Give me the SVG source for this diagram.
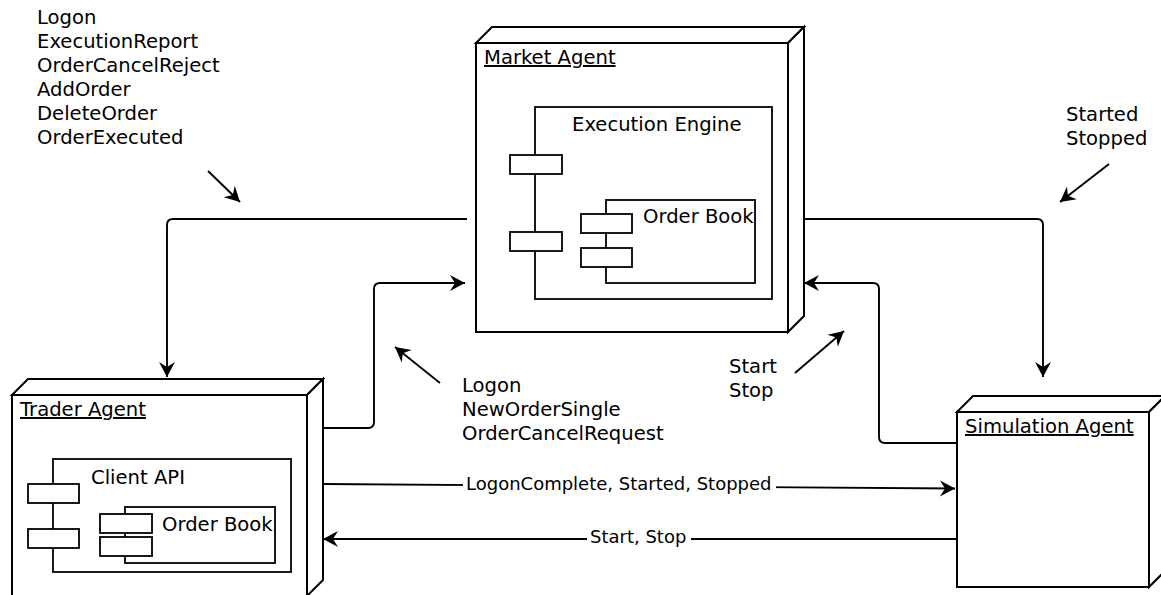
<svg xmlns="http://www.w3.org/2000/svg" width="1161" height="595" viewBox="0 0 1161 595">
<defs>
<style>
text{font-family:"DejaVu Sans","Liberation Sans",sans-serif;fill:#000;}
.t{font-size:19.6px;}
.s{font-size:18px;}
.u{text-decoration:underline;}
.box{fill:#fff;stroke:#000;stroke-width:2;stroke-linejoin:miter;}
.comp{fill:#fff;stroke:#000;stroke-width:1.8;}
.c{fill:none;stroke:#000;stroke-width:1.9;marker-end:url(#arr);}
</style>
<marker id="arr" markerUnits="userSpaceOnUse" markerWidth="18" markerHeight="18" viewBox="-16 -9 18 18" refX="0" refY="0" orient="auto">
<path d="M0,0 L-15,-8 L-10,0 L-15,8 Z" fill="#000"/>
</marker>
</defs>
<rect width="1161" height="595" fill="#fff"/>

<g id="connectors">
<path class="c" d="M467,219 H173 Q167,219 167,225 V377"/>
<path class="c" d="M323,428 H368 Q374,428 374,422 V289 Q374,283 380,283 H465"/>
<path class="c" d="M803,219 H1037 Q1043,219 1043,225 V377"/>
<path class="c" d="M957,443 H885 Q879,443 879,437 V289 Q879,283 873,283 H804"/>
<path class="c" d="M323,484 L955,488.5"/>
<path class="c" d="M957,539 H323"/>
<path class="c" d="M208,171 L240,202"/>
<path class="c" d="M440,383 L395,347"/>
<path class="c" d="M1109,164 L1060,202"/>
<path class="c" d="M795,373 L844,331"/>
<rect x="463" y="474" width="313" height="22" fill="#fff"/>
<text class="s" x="466" y="490">LogonComplete, Started, Stopped</text>
<rect x="587" y="528" width="104" height="22" fill="#fff"/>
<text class="s" x="590" y="543">Start, Stop</text>
</g>

<g id="market-agent">
<polygon class="box" points="476,43 492,27 804,27 788,43"/>
<polygon class="box" points="788,43 804,27 804,316 788,332"/>
<rect class="box" x="476" y="43" width="312" height="289"/>
<text class="t u" x="484" y="64">Market Agent</text>
<g id="execution-engine">
<rect class="comp" x="535" y="107" width="237" height="192"/>
<rect class="comp" x="510" y="155" width="52" height="19"/>
<rect class="comp" x="510" y="232" width="52" height="19"/>
<text class="t" x="572" y="131">Execution Engine</text>
</g>
<g id="market-order-book">
<rect class="comp" x="606" y="200" width="149" height="83"/>
<rect class="comp" x="581" y="214" width="51" height="19"/>
<rect class="comp" x="581" y="248" width="51" height="19"/>
<text class="t" x="643" y="223">Order Book</text>
</g>
</g>

<g id="trader-agent">
<polygon class="box" points="12,395 28,379 323,379 307,395"/>
<polygon class="box" points="307,395 323,379 323,580 307,596"/>
<rect class="box" x="12" y="395" width="295" height="201"/>
<text class="t u" x="20" y="416">Trader Agent</text>
<g id="client-api">
<rect class="comp" x="53" y="459" width="238" height="113"/>
<rect class="comp" x="28" y="484" width="51" height="19"/>
<rect class="comp" x="28" y="529" width="51" height="19"/>
<text class="t" x="91" y="484">Client API</text>
</g>
<g id="trader-order-book">
<rect class="comp" x="125" y="507" width="150" height="56"/>
<rect class="comp" x="100" y="514" width="52" height="19"/>
<rect class="comp" x="100" y="537" width="52" height="19"/>
<text class="t" x="162" y="531">Order Book</text>
</g>
</g>

<g id="simulation-agent">
<polygon class="box" points="957,412 973,396 1165,396 1149,412"/>
<polygon class="box" points="1149,412 1165,396 1165,571 1149,587"/>
<rect class="box" x="957" y="412" width="192" height="175"/>
<text class="t u" x="965" y="433">Simulation Agent</text>
</g>

<g id="labels">
<text class="t" x="37" y="24">Logon</text>
<text class="t" x="37" y="48">ExecutionReport</text>
<text class="t" x="37" y="72">OrderCancelReject</text>
<text class="t" x="37" y="96">AddOrder</text>
<text class="t" x="37" y="120">DeleteOrder</text>
<text class="t" x="37" y="144">OrderExecuted</text>
<text class="t" x="462" y="392">Logon</text>
<text class="t" x="462" y="416">NewOrderSingle</text>
<text class="t" x="462" y="440">OrderCancelRequest</text>
<text class="t" x="1066" y="121">Started</text>
<text class="t" x="1066" y="145">Stopped</text>
<text class="t" x="729" y="373">Start</text>
<text class="t" x="729" y="397">Stop</text>
</g>
</svg>
